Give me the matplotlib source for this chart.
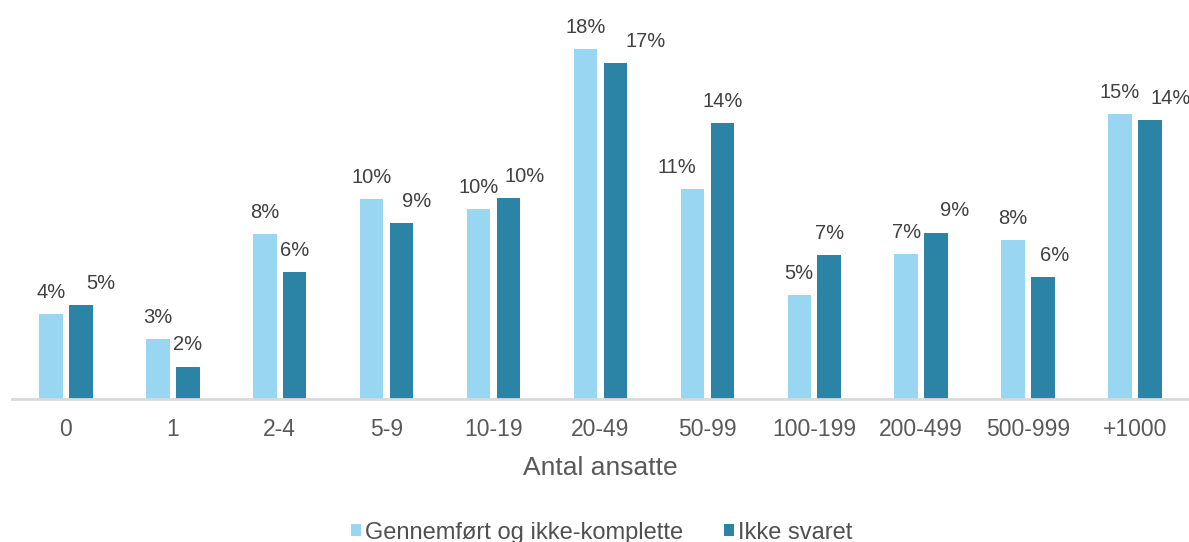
import numpy as np
import matplotlib.pyplot as plt

plt.rcParams['font.family'] = ['Liberation Sans', 'DejaVu Sans']

categories = ['0', '1', '2-4', '5-9', '10-19', '20-49', '50-99',
              '100-199', '200-499', '500-999', '+1000']
completed = [4.33, 3.05, 8.43, 10.22, 9.69, 17.88, 10.71, 5.31, 7.41, 8.12, 14.56]
no_answer = [4.80, 1.64, 6.49, 8.99, 10.27, 17.17, 14.10, 7.36, 8.51, 6.23, 14.24]
series_names = ['Gennemført og ikke-komplette', 'Ikke svaret']

# label nudges (pixels) where Excel moved labels apart
nudge_light = [0, 0, 0, 0, 0, 0, -16, 0, 0, 0, 0]
nudge_dark = [20, 0, 0, 15, 16, 30, 0, 0, 19, 12, 21]

light = '#98D6F1'
dark = '#2B83A5'
text_col = '#404040'

fig = plt.figure(figsize=(11.89, 5.42), dpi=100)
ax = fig.add_axes([0.0105, 0.2638, 0.989, 0.7177])

x = np.arange(len(categories))
off = 0.14
w = 0.22
b1 = ax.bar(x - off, completed, w, color=light, label=series_names[0])
b2 = ax.bar(x + off, no_answer, w, color=dark, label=series_names[1])

for bars, vals, nudges in [(b1, completed, nudge_light), (b2, no_answer, nudge_dark)]:
    for bar, v, dx in zip(bars, vals, nudges):
        ax.annotate(f'{v:.0f}%', (bar.get_x() + bar.get_width() / 2, v),
                    xytext=(dx, 22), textcoords='offset pixels',
                    ha='center', va='center', fontsize=14.5, color=text_col)

ax.set_xlim(-0.5, len(categories) - 0.5)
ax.set_ylim(0, 19.88)
ax.set_yticks([])
ax.set_xticks(x)
ax.set_xticklabels(categories, fontsize=16.5, color='#595959')
ax.tick_params(axis='x', length=0, pad=13.5)
ax.set_xlabel('Antal ansatte', fontsize=19, color='#595959', labelpad=11)

for s in ['top', 'right', 'left']:
    ax.spines[s].set_visible(False)
ax.spines['bottom'].set_color('#d9d9d9')
ax.spines['bottom'].set_linewidth(2)

fig.legend(handles=[b1, b2], loc='center', bbox_to_anchor=(0.506, 0.017),
           ncol=2, frameon=False, fontsize=17, labelcolor='#505050',
           handlelength=0.42, handleheight=0.42, handletextpad=0.15,
           columnspacing=1.75)

fig.savefig('out.png', dpi=100)
